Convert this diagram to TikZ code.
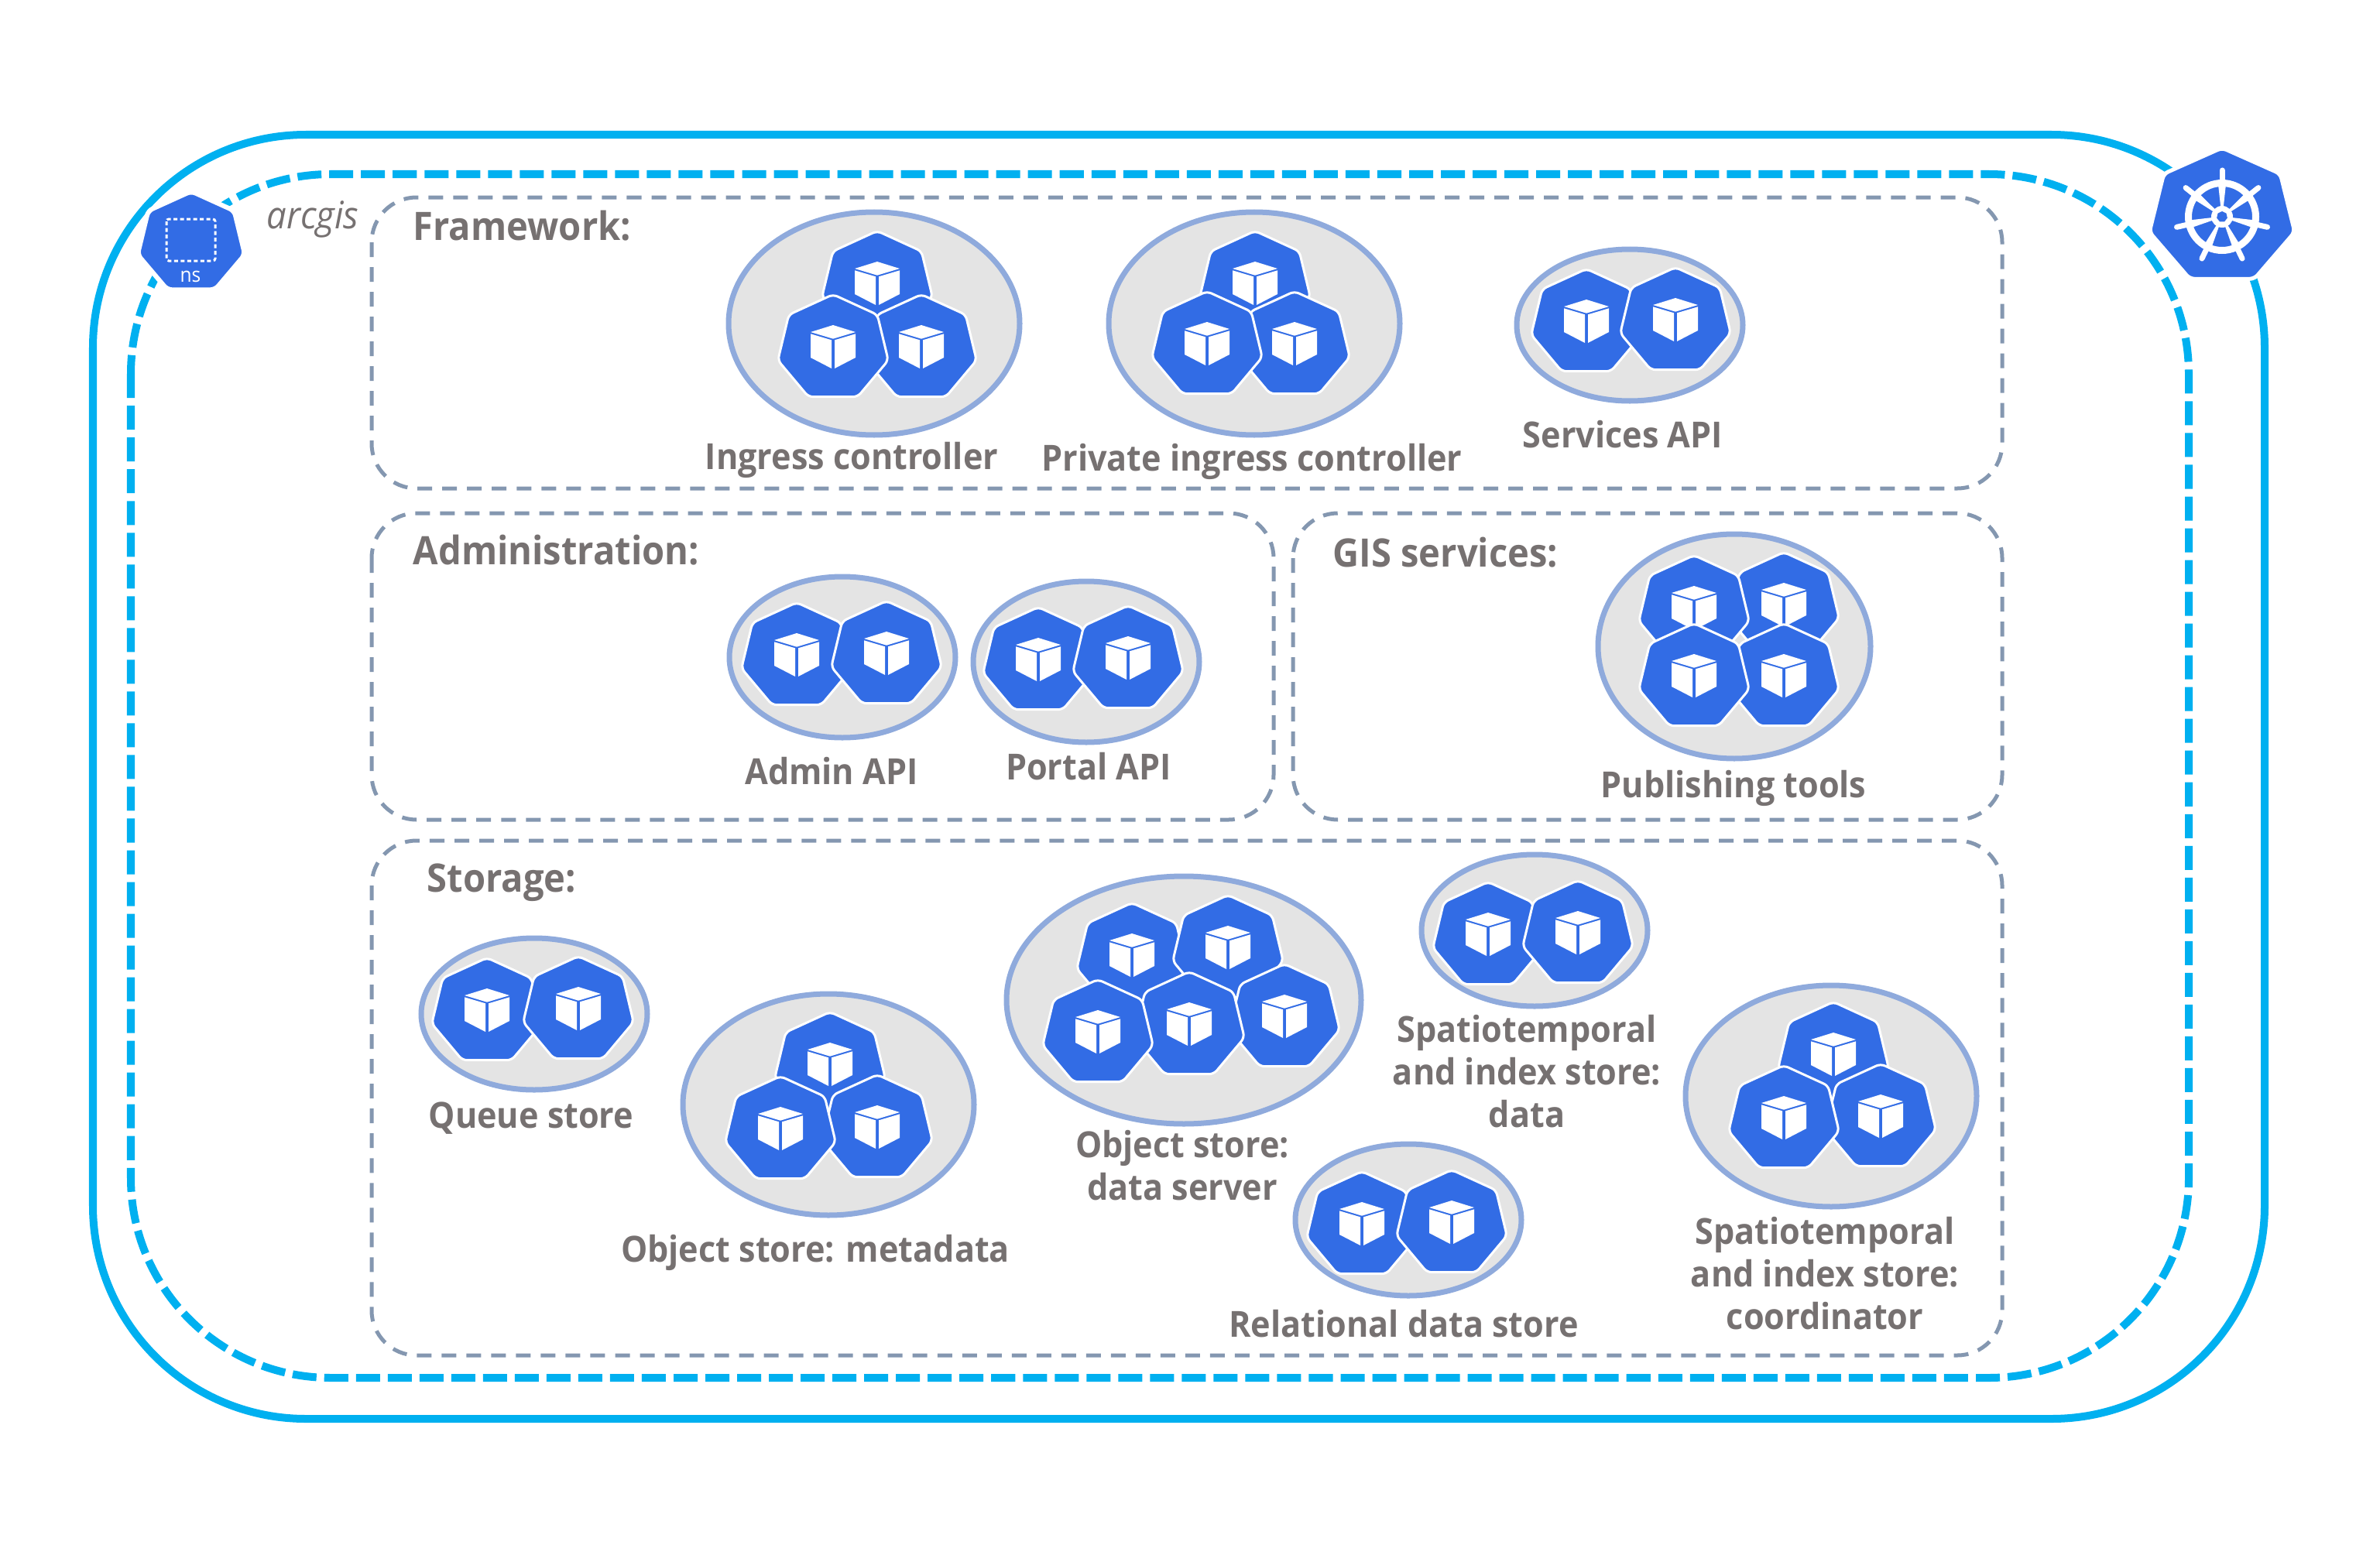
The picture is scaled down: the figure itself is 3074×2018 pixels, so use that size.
\documentclass[tikz,border=0pt]{standalone}
\usepackage{fontspec}
\setmainfont{Open Sans}[FakeStretch=0.93]
\definecolor{clusterblue}{HTML}{00B0F0}
\definecolor{kubeblue}{HTML}{326CE5}
\definecolor{boxline}{HTML}{8497B0}
\definecolor{groupfill}{HTML}{E4E4E4}
\definecolor{groupline}{HTML}{8FAADC}
\definecolor{labelgray}{HTML}{767171}
\def\heptpath#1{(-90:#1) -- (-38.57:#1) -- (12.86:#1) -- (64.29:#1) -- (115.71:#1) -- (167.14:#1) -- (218.57:#1) -- cycle}
\tikzset{
	cluster/.style={draw=clusterblue, line width=0.1cm, rounded corners=2.75cm},
	namespace/.style={draw=clusterblue, line width=0.1cm, rounded corners=2.58cm, dash pattern=on 0.31cm off 0.1cm},
	stagebox/.style={draw=boxline, line width=0.05cm, rounded corners=0.58cm, dash pattern=on 0.19cm off 0.13cm},
	podgroup/.style={fill=groupfill, draw=groupline, line width=0.07cm},
	hept/.style={fill=kubeblue, draw=white, line width=0.03cm, rounded corners=0.06cm},
	title/.style={text=labelgray, font=\fontsize{14.4}{15.6}\selectfont\bfseries, inner sep=0pt, anchor=west},
	podlabel/.style={text=labelgray, font=\fontsize{13.2}{15.6}\selectfont\bfseries, inner sep=0pt, align=center},
	pod/.pic={
		\begin{scope}[yshift=-0.03cm]
			\draw[hept, xscale=1.03, yscale=0.98] \heptpath{71};
			\fill[white] (0,-30) -- (29,-21) -- (0,-12.3) -- (-29,-21) -- cycle;
			\fill[white] (-29,-18.7) -- (-2,-10.7) -- (-2,26) -- (-29,12) -- cycle;
			\fill[white] (2,-10.7) -- (29,-18.7) -- (29,12) -- (2,26) -- cycle;
		\end{scope}
	},
	wheel/.pic={
		\draw[hept, line width=0.05cm, xscale=1.07, yscale=0.99] \heptpath{90};
		\draw[white, line width=0.09cm] (0,0) circle (43.5);
		\foreach \i in {0,...,6} {
			\begin{scope}[rotate={\i*360/7}]
				\fill[white] (-1.5,-10) -- (-5,-42) -- (5,-42) -- (1.5,-10) -- cycle;
				\draw[white, line width=0.07cm, line cap=round] (0,-44) -- (0,-60);
			\end{scope}
		}
		\fill[white] (0,0) circle (14);
		\fill[kubeblue] \heptpath{7};
	},
}
\begin{document}
\begin{tikzpicture}[x=0.01cm, y=-0.01cm]
	\useasboundingbox (0,0) rectangle (3074,2018);

	\draw[cluster] (120,174) rectangle (2925,1833);
	\draw[namespace] (169,225) rectangle (2827,1780);

	\draw[stagebox] (480,255) rectangle (2586,631);
	\draw[stagebox] (480,663) rectangle (1645,1059);
	\draw[stagebox] (1670,663) rectangle (2586,1059);
	\draw[stagebox] (480,1086) rectangle (2586,1751);

	% namespace badge
	\draw[hept, line width=0.06cm, shift={(247,314)}, xscale=1.03, yscale=0.97] \heptpath{69};
	\draw[white, line width=0.03cm, dash pattern=on 0.05cm off 0.035cm, rounded corners=0.03cm] (215,283) rectangle (278,337);
	\node[text=white, font=\fontsize{7.5}{9}\selectfont, inner sep=0pt] (nslabel) at (246,357) {ns};
	\node[text=labelgray, font=\fontsize{13.9}{14}\selectfont\itshape, inner sep=0pt] (nsname) at (404,283) {arcgis};

	\pic at (2870,280) {wheel};

	% framework
	\node[title] (framework) at (533,292) {Framework:};
	\draw[podgroup] (1129,418) ellipse (188 and 144);
	\foreach \x/\y in {1133/365, 1190/447, 1076/447} \pic at (\x,\y) {pod};
	\node[podlabel] (ingress) at (1100,594) {Ingress controller};
	\draw[podgroup] (1620,418) ellipse (188 and 144);
	\foreach \x/\y in {1621/365, 1672/443, 1559/443} \pic at (\x,\y) {pod};
	\node[podlabel] (privateingress) at (1617,596) {Private ingress controller};
	\draw[podgroup] (2105,420) ellipse (146 and 98);
	\foreach \x/\y in {2049/414, 2164/412} \pic at (\x,\y) {pod};
	\node[podlabel] (servicesapi) at (2096,561) {Services API};

	% administration
	\node[title] (administration) at (533,711) {Administration:};
	\draw[podgroup] (1088,849) ellipse (146 and 104);
	\foreach \x/\y in {1029/845, 1145/843} \pic at (\x,\y) {pod};
	\node[podlabel] (adminapi) at (1074,996) {Admin API};
	\draw[podgroup] (1403,855) ellipse (146 and 104);
	\foreach \x/\y in {1341/851, 1457/849} \pic at (\x,\y) {pod};
	\node[podlabel] (portalapi) at (1406,990) {Portal API};

	% gis services
	\node[title] (gisservices) at (1721,714) {GIS services:};
	\draw[podgroup] (2240,835) ellipse (176 and 145);
	\foreach \x/\y in {2304/780, 2188/784, 2304/872, 2188/872} \pic at (\x,\y) {pod};
	\node[podlabel] (publishing) at (2239,1018) {Publishing tools};

	% storage
	\node[title] (storage) at (551,1140) {Storage:};
	\draw[podgroup] (690,1310) ellipse (146 and 98);
	\foreach \x/\y in {629/1304, 747/1302} \pic at (\x,\y) {pod};
	\node[podlabel] (queuestore) at (686,1445) {Queue store};
	\draw[podgroup] (1070,1427) ellipse (188 and 143);
	\foreach \x/\y in {1072/1374, 1133/1455, 1008/1457} \pic at (\x,\y) {pod};
	\node[podlabel] (objectmeta) at (1053,1618) {Object store: metadata};
	\draw[podgroup] (1529,1292) ellipse (229 and 160);
	\foreach \x/\y in {1462/1233, 1586/1223, 1659/1312, 1536/1322, 1418/1332} \pic at (\x,\y) {pod};
	\node[podlabel] (objectdata) at (1527,1506) {Object store:\\data server};
	\draw[podgroup] (1982,1202) ellipse (146 and 98);
	\foreach \x/\y in {1922/1206, 2038/1204} \pic at (\x,\y) {pod};
	\node[podlabel] (spatialdata) at (1972,1384) {Spatiotemporal\\and index store:\\data};
	\draw[podgroup] (1819,1576) ellipse (146 and 98);
	\foreach \x/\y in {1759/1580, 1875/1578} \pic at (\x,\y) {pod};
	\node[podlabel] (relational) at (1813,1710) {Relational data store};
	\draw[podgroup] (2365,1416) ellipse (188 and 143);
	\foreach \x/\y in {2368/1361, 2429/1441, 2304/1443} \pic at (\x,\y) {pod};
	\node[podlabel] (spatialcoord) at (2357,1645) {Spatiotemporal\\and index store:\\coordinator};
\end{tikzpicture}
\end{document}
